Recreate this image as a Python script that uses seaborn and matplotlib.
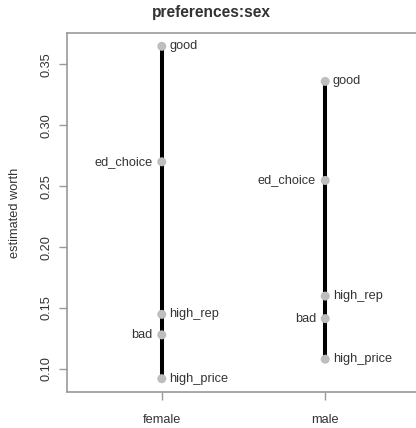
import matplotlib
matplotlib.use("Agg")
import matplotlib.pyplot as plt
import seaborn as sns
import pandas as pd

# estimated worth of each item, per group
groups = ["female", "male"]
items = ["good", "ed_choice", "high_rep", "bad", "high_price"]
worth_female = [0.3648, 0.270, 0.1448, 0.128, 0.092]
worth_male = [0.336, 0.2547, 0.1598, 0.1413, 0.108]
label_side = {"good": "right", "ed_choice": "left", "high_rep": "right",
              "bad": "left", "high_price": "right"}
yticks = [0.10, 0.15, 0.20, 0.25, 0.30, 0.35]

rows = []
for g, vals in zip(groups, [worth_female, worth_male]):
    for it, v in zip(items, vals):
        rows.append({"sex": g, "item": it, "worth": v, "pos": groups.index(g)})
df = pd.DataFrame(rows)

sns.set_style("white")
plt.rcParams["font.family"] = ["Liberation Sans", "DejaVu Sans"]
text_col = "#333333"
frame_col = "#999999"

fig = plt.figure(figsize=(4.16, 4.28), dpi=100)
ax = fig.add_axes([67 / 416, 1 - 392 / 428, 353 / 416, 359 / 428])

sns.lineplot(data=df, x="pos", y="worth", units="sex", estimator=None,
             sort=True, color="black", linewidth=2.9, ax=ax, legend=False)
sns.scatterplot(data=df, x="pos", y="worth", color="#BEBEBE", s=42,
                edgecolor="none", ax=ax, zorder=3, legend=False)

for _, r in df.iterrows():
    if label_side[r["item"]] == "right":
        ax.annotate(r["item"], (r["pos"], r["worth"]), xytext=(5.5, 0),
                    textcoords="offset points", ha="left", va="center",
                    fontsize=9.2, color=text_col)
    else:
        ax.annotate(r["item"], (r["pos"], r["worth"]), xytext=(-6.5, 0),
                    textcoords="offset points", ha="right", va="center",
                    fontsize=9.2, color=text_col)

lo = min(worth_female + worth_male)
hi = max(worth_female + worth_male)
pad = (hi - lo) * 0.04
ax.set_ylim(lo - pad, hi + pad)
ax.set_xlim(-0.58, 1.58)

ax.set_xticks(range(len(groups)))
ax.set_xticklabels(groups)
ax.set_yticks(yticks)
ax.set_yticklabels([f"{t:.2f}" for t in yticks], rotation=90, va="center")
ax.tick_params(axis="both", direction="out", length=6, width=1,
               color=frame_col, labelcolor=text_col, labelsize=9.2,
               bottom=True, left=True, top=False, right=False)
ax.tick_params(axis="x", pad=10)
ax.tick_params(axis="y", pad=4.5)

for side in ["left", "bottom", "top"]:
    ax.spines[side].set_color(frame_col)
    ax.spines[side].set_linewidth(1.2)
ax.spines["right"].set_visible(False)

ax.set_xlabel("")
ax.set_ylabel("estimated worth", fontsize=9.2, color=text_col)
ax.yaxis.set_label_coords(-0.130, 0.5)

fig.text(211 / 416, 1 - 13 / 428, "preferences:sex", ha="center",
         va="center", fontsize=11.2, fontweight="bold", color=text_col)

fig.savefig("out.png", dpi=100)
